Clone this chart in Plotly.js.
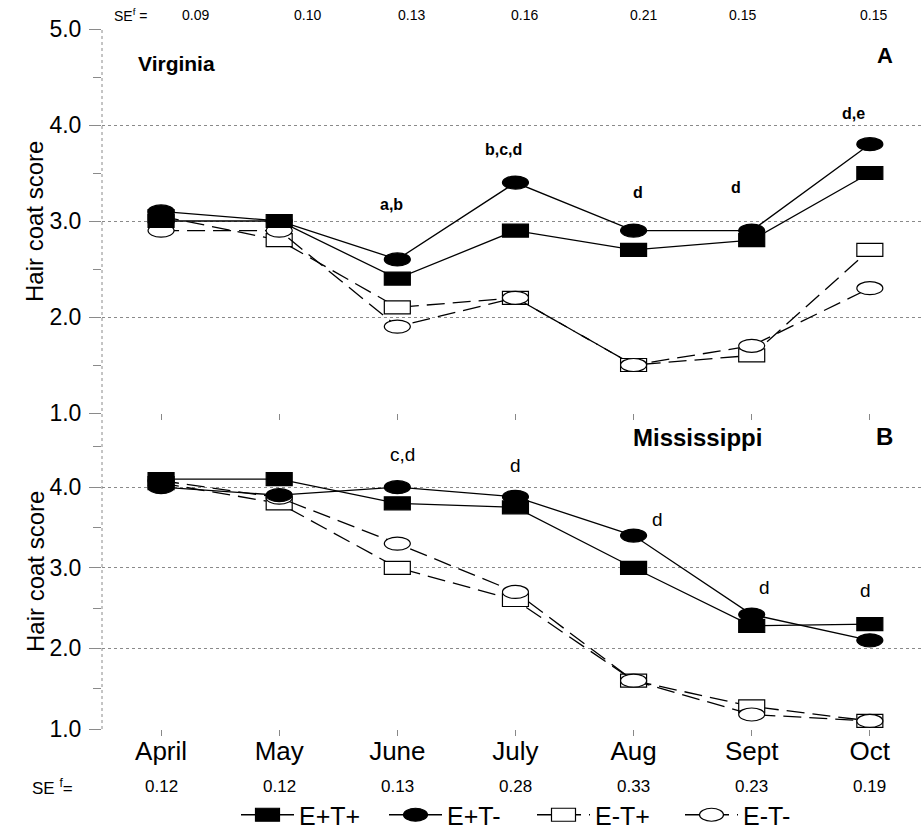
<!DOCTYPE html>
<html>
<head>
<meta charset="utf-8">
<script src="https://cdn.plot.ly/plotly-3.0.1.min.js"></script>
<style>
html,body{margin:0;padding:0;background:#fff;}
#chart{width:923px;height:832px;}
</style>
</head>
<body>
<div id="chart"></div>
<script>
// ---------------- DATA ----------------
const months = ['April','May','June','July','Aug','Sept','Oct'];
const seriesNames = ['E+T+','E+T-','E-T+','E-T-'];

// Panel A - Virginia
const vaEpTp = [3.0, 3.0, 2.4, 2.9, 2.7, 2.8, 3.5];
const vaEpTm = [3.1, 3.0, 2.6, 3.4, 2.9, 2.9, 3.8];
const vaEmTp = [3.05, 2.8, 2.1, 2.2, 1.5, 1.6, 2.7];
const vaEmTm = [2.9, 2.9, 1.9, 2.2, 1.5, 1.7, 2.3];

// Panel B - Mississippi
const msEpTp = [4.1, 4.1, 3.8, 3.75, 3.0, 2.28, 2.3];
const msEpTm = [4.0, 3.9, 4.0, 3.88, 3.4, 2.42, 2.1];
const msEmTp = [4.05, 3.8, 3.0, 2.6, 1.6, 1.28, 1.1];
const msEmTm = [4.08, 3.87, 3.3, 2.7, 1.6, 1.18, 1.1];

// Standard errors
const seVirginia = ['0.09','0.10','0.13','0.16','0.21','0.15','0.15'];
const seMississippi = ['0.12','0.12','0.13','0.28','0.33','0.23','0.19'];

// Significance letters
const sigVirginia = ['', '', 'a,b', 'b,c,d', 'd', 'd', 'd,e'];
const sigMississippi = ['', '', 'c,d', 'd', 'd', 'd', 'd'];

const yTicksTop = [1, 2, 3, 4, 5];
const yTicksBottom = [1, 2, 3, 4];

// ---------------- STYLE / LAYOUT ----------------
const FONT = 'Liberation Sans, Arial, Helvetica, sans-serif';
const idx = months.map((m, i) => i);

const styles = [
  {symbol: 'square', fill: '#000', dash: 'solid'},
  {symbol: 'circle', fill: '#000', dash: 'solid'},
  {symbol: 'square', fill: '#fff', dash: '18px,8px'},
  {symbol: 'circle', fill: '#fff', dash: '18px,8px'}
];
const legendRank = [1, 2, 3, 4];

function mk(name, y, s, xa, ya, showleg, lr) {
  return {
    type: 'scatter', mode: 'lines+markers', name: name,
    x: idx, y: y, xaxis: xa, yaxis: ya,
    showlegend: showleg, legendrank: lr,
    line: {color: '#000', width: 1.3, dash: s.dash},
    marker: {symbol: s.symbol, size: 12, color: s.fill, line: {color: '#000', width: 1.2}},
    hoverinfo: 'skip'
  };
}

const vaSeries = [vaEpTp, vaEpTm, vaEmTp, vaEmTm];
const msSeries = [msEpTp, msEpTm, msEmTp, msEmTm];
// draw order: open markers first, then filled
const drawOrder = [2, 3, 0, 1];
const traces = [];
drawOrder.forEach(k => traces.push(mk(seriesNames[k], vaSeries[k], styles[k], 'x', 'y', true, legendRank[k])));
drawOrder.forEach(k => traces.push(mk(seriesNames[k], msSeries[k], styles[k], 'x2', 'y2', false, legendRank[k])));

// plot area geometry: left 102, right 923, top 29, bottom 729
const L = 102, R = 923, T = 29, B = 729;
const W = R - L, H = B - T;
const px = x => (x - L) / W;
const py = y => (B - y) / H;
const split = py(413);

const annotations = [];
// Top SE row
annotations.push({xref: 'paper', yref: 'paper', x: px(131), y: py(15), text: 'SE<sup>f</sup> =', showarrow: false,
  font: {family: FONT, size: 14, color: '#000'}, xanchor: 'center', yanchor: 'middle'});
const seTopOffsets = [0.29, 0.24, 0.12, 0.08, 0.08, -0.08, 0.03];
seVirginia.forEach((t, i) => annotations.push({xref: 'x', yref: 'paper', x: i + seTopOffsets[i], y: py(15), text: t,
  showarrow: false, font: {family: FONT, size: 14, color: '#000'}, xanchor: 'center', yanchor: 'middle'}));
// Bottom SE row
annotations.push({xref: 'paper', yref: 'paper', x: px(52), y: py(787), text: 'SE <sup>f</sup>=', showarrow: false,
  font: {family: FONT, size: 17, color: '#000'}, xanchor: 'center', yanchor: 'middle'});
seMississippi.forEach((t, i) => annotations.push({xref: 'x2', yref: 'paper', x: i, y: py(787), text: t,
  showarrow: false, font: {family: FONT, size: 17, color: '#000'}, xanchor: 'center', yanchor: 'middle'}));

// Panel labels
annotations.push({xref: 'paper', yref: 'paper', x: px(136), y: py(63), text: '<b>Virginia</b>', showarrow: false,
  font: {family: FONT, size: 21, color: '#000'}, xanchor: 'left', yanchor: 'middle'});
annotations.push({xref: 'paper', yref: 'paper', x: px(885), y: py(55), text: '<b>A</b>', showarrow: false,
  font: {family: FONT, size: 22, color: '#000'}, xanchor: 'center', yanchor: 'middle'});
annotations.push({xref: 'paper', yref: 'paper', x: px(697), y: py(437), text: '<b>Mississippi</b>', showarrow: false,
  font: {family: FONT, size: 24, color: '#000'}, xanchor: 'center', yanchor: 'middle'});
annotations.push({xref: 'paper', yref: 'paper', x: px(884), y: py(436), text: '<b>B</b>', showarrow: false,
  font: {family: FONT, size: 24, color: '#000'}, xanchor: 'center', yanchor: 'middle'});

// Y titles
annotations.push({xref: 'paper', yref: 'paper', x: px(35), y: py(222), text: 'Hair coat score', textangle: -90,
  showarrow: false, font: {family: FONT, size: 24, color: '#000'}, xanchor: 'center', yanchor: 'middle'});
annotations.push({xref: 'paper', yref: 'paper', x: px(35), y: py(572), text: 'Hair coat score', textangle: -90,
  showarrow: false, font: {family: FONT, size: 24, color: '#000'}, xanchor: 'center', yanchor: 'middle'});

// Significance letters (positions in data units)
const sigTopPos = [null, null, [1.95, 3.17], [2.9, 3.74], [4.04, 3.3], [4.87, 3.35], [5.86, 4.12]];
const sigBotPos = [null, null, [2.04, 4.4], [3.0, 4.27], [4.2, 3.6], [5.11, 2.76], [5.96, 2.72]];
sigVirginia.forEach((t, i) => { if (t) annotations.push({xref: 'x', yref: 'y', x: sigTopPos[i][0], y: sigTopPos[i][1],
  text: '<b>' + t + '</b>', showarrow: false, font: {family: FONT, size: 16, color: '#000'}, xanchor: 'center', yanchor: 'middle'}); });
sigMississippi.forEach((t, i) => { if (t) annotations.push({xref: 'x2', yref: 'y2', x: sigBotPos[i][0], y: sigBotPos[i][1],
  text: t, showarrow: false, font: {family: FONT, size: 19, color: '#000'}, xanchor: 'center', yanchor: 'middle'}); });

const gridStyle = {showgrid: true, gridcolor: '#8a8a8a', griddash: 'dot', gridwidth: 1};

const layout = {
  width: 923, height: 832,
  margin: {l: L, r: 923 - R, t: T, b: 832 - B, pad: 0, autoexpand: false},
  paper_bgcolor: '#fff', plot_bgcolor: 'rgba(0,0,0,0)',
  font: {family: FONT, color: '#000'},
  showlegend: true,
  legend: {orientation: 'h', x: px(236), y: py(815), xanchor: 'left', yanchor: 'middle',
    font: {family: FONT, size: 25, color: '#000'}, itemwidth: 53, entrywidth: 80, entrywidthmode: 'pixels',
    tracegroupgap: 0, bgcolor: 'rgba(0,0,0,0)'},
  xaxis: {domain: [0, 1], anchor: 'y', range: [-0.5, 6.45], tickmode: 'array', tickvals: idx, ticktext: months,
    showticklabels: false, ticks: 'outside', ticklen: 6, tickcolor: '#888', showgrid: false, zeroline: false, showline: false},
  xaxis2: {domain: [0, 1], anchor: 'y2', matches: 'x', range: [-0.5, 6.45], tickmode: 'array', tickvals: idx, ticktext: months,
    showticklabels: true, ticks: 'outside', ticklen: 6, tickcolor: '#888', showgrid: false, zeroline: false, showline: false,
    tickfont: {family: FONT, size: 26, color: '#000'}, ticklabelstandoff: -7},
  yaxis: Object.assign({domain: [split, 1], anchor: 'x', range: [1, 5], tickmode: 'array', tickvals: yTicksTop,
    tickformat: '.1f', ticks: 'outside', ticklen: 12, tickcolor: '#8a8a8a', zeroline: false, showline: false,
    tickfont: {family: FONT, size: 23, color: '#000'}, ticklabelstandoff: 3,
    minor: {dtick: 0.5, tick0: 0.5, ticks: 'outside', ticklen: 8, tickcolor: '#8a8a8a', showgrid: false}}, gridStyle),
  yaxis2: Object.assign({domain: [0, split], anchor: 'x2', range: [1, 4.92], tickmode: 'array', tickvals: yTicksBottom,
    tickformat: '.1f', ticks: 'outside', ticklen: 12, tickcolor: '#8a8a8a', zeroline: false, showline: false,
    tickfont: {family: FONT, size: 23, color: '#000'}, ticklabelstandoff: 3,
    minor: {dtick: 0.5, tick0: 0.5, ticks: 'outside', ticklen: 8, tickcolor: '#8a8a8a', showgrid: false}}, gridStyle),
  shapes: [
    {type: 'line', xref: 'paper', yref: 'paper', x0: 0, x1: 0, y0: 0, y1: 1, line: {color: '#8a8a8a', width: 1, dash: 'dot'}}
  ],
  annotations: annotations
};

function reshapeMarkers(gd) {
  const rectPath = (w, h) => `M${-w},${-h}H${w}V${h}H${-w}Z`;
  const ellPath = (w, h) => `M${w},0A${w},${h} 0 1,1 ${-w},0A${w},${h} 0 1,1 ${w},0Z`;
  gd.querySelectorAll('.scatterlayer path.point').forEach(p => {
    const d = p.getAttribute('d') || '';
    p.setAttribute('d', d.indexOf('A') >= 0 ? ellPath(13, 6.5) : rectPath(13, 6.5));
  });
  gd.querySelectorAll('.legend path.scatterpts').forEach(p => {
    const d = p.getAttribute('d') || '';
    p.setAttribute('d', d.indexOf('A') >= 0 ? ellPath(12, 6.5) : rectPath(12, 6.5));
  });
}

const gd = document.getElementById('chart');
Plotly.newPlot(gd, traces, layout, {staticPlot: true, displayModeBar: false}).then(() => {
  reshapeMarkers(gd);
  gd.on && gd.on('plotly_afterplot', () => reshapeMarkers(gd));
});
</script>
</body>
</html>
